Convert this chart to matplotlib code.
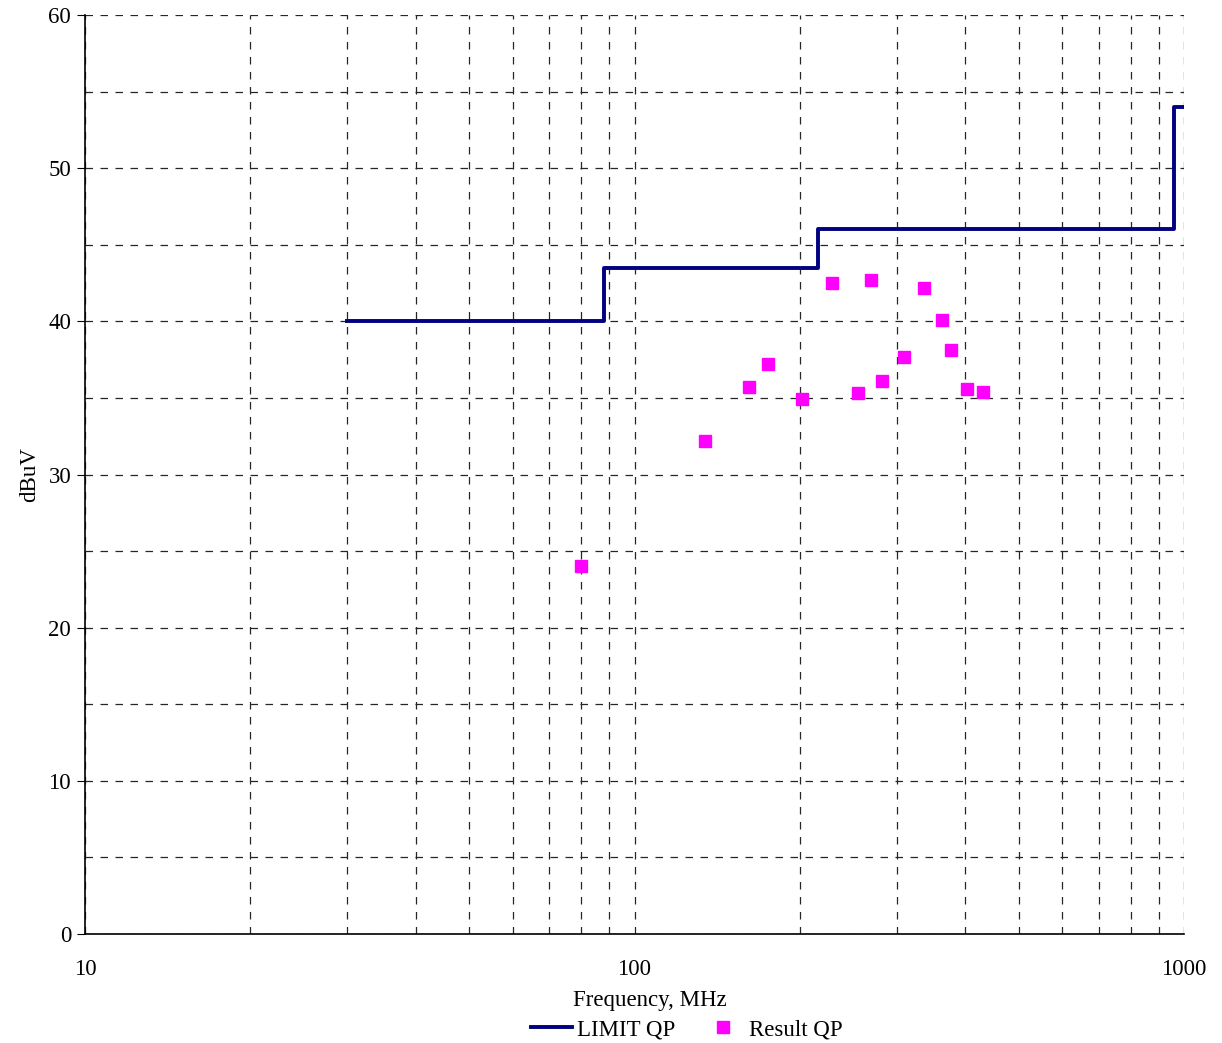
import matplotlib.pyplot as plt
from matplotlib.ticker import FixedLocator, NullFormatter

plt.rcParams["font.family"] = ["Liberation Serif", "DejaVu Serif"]

# limit line (step edges)
limit_freq = [30, 88, 88, 216, 216, 960, 960, 1000]
limit_db = [40, 40, 43.5, 43.5, 46, 46, 54, 54]

# measured quasi-peak results
result_freq = [80, 134.4, 161.6, 175, 201.8, 228.8, 255, 269.4, 282,
               309.3, 336.4, 362.6, 376.7, 402.8, 430.8]
result_db = [24.0, 32.2, 35.7, 37.2, 34.9, 42.5, 35.3, 42.7, 36.1,
             37.7, 42.2, 40.1, 38.1, 35.6, 35.4]

fig = plt.figure(figsize=(12.22, 10.43), dpi=100)
ax = fig.add_axes([0.0696, 0.1045, 0.8993, 0.8811])

ax.plot(limit_freq, limit_db, color="#000080", linewidth=2.8, label="LIMIT QP",
        zorder=3)
ax.plot(result_freq, result_db, linestyle="none", marker="s", markersize=8,
        color="#FF00FF", label="Result QP", zorder=4)

ax.set_xscale("log")
ax.set_xlim(10, 1000)
ax.set_ylim(0, 60)

ax.xaxis.set_major_locator(FixedLocator([10, 100, 1000]))
ax.set_xticklabels(["10", "100", "1000"])
minor = [m * d for d in (10, 100) for m in range(2, 10)]
ax.xaxis.set_minor_locator(FixedLocator(minor))
ax.xaxis.set_minor_formatter(NullFormatter())
ax.yaxis.set_major_locator(FixedLocator(range(0, 61, 10)))
ax.yaxis.set_minor_locator(FixedLocator(range(5, 60, 10)))

ax.grid(True, which="both", color="0.15", linestyle=(0, (6, 6)), linewidth=0.9)
ax.set_axisbelow(True)

for side in ("top", "right"):
    ax.spines[side].set_visible(False)
ax.spines["left"].set_linewidth(1.2)
ax.spines["bottom"].set_linewidth(1.2)

ax.tick_params(which="both", length=0, labelsize=16.5)
ax.tick_params(axis="x", which="major", pad=18)
ax.tick_params(axis="y", which="major", length=6, direction="out", pad=4)

ax.set_xlabel("Frequency, MHz", fontsize=16.5)
ax.xaxis.set_label_coords(0.514, -0.061)
ax.set_ylabel("dBuV", fontsize=16.5, labelpad=6)

fig.legend(*ax.get_legend_handles_labels(), loc="center",
           bbox_to_anchor=(0.562, 0.0125), ncol=2, frameon=False,
           fontsize=16.5, handlelength=1.8, handletextpad=0.2,
           columnspacing=1.2, borderaxespad=0, borderpad=0)

fig.savefig("out.png", dpi=100)
